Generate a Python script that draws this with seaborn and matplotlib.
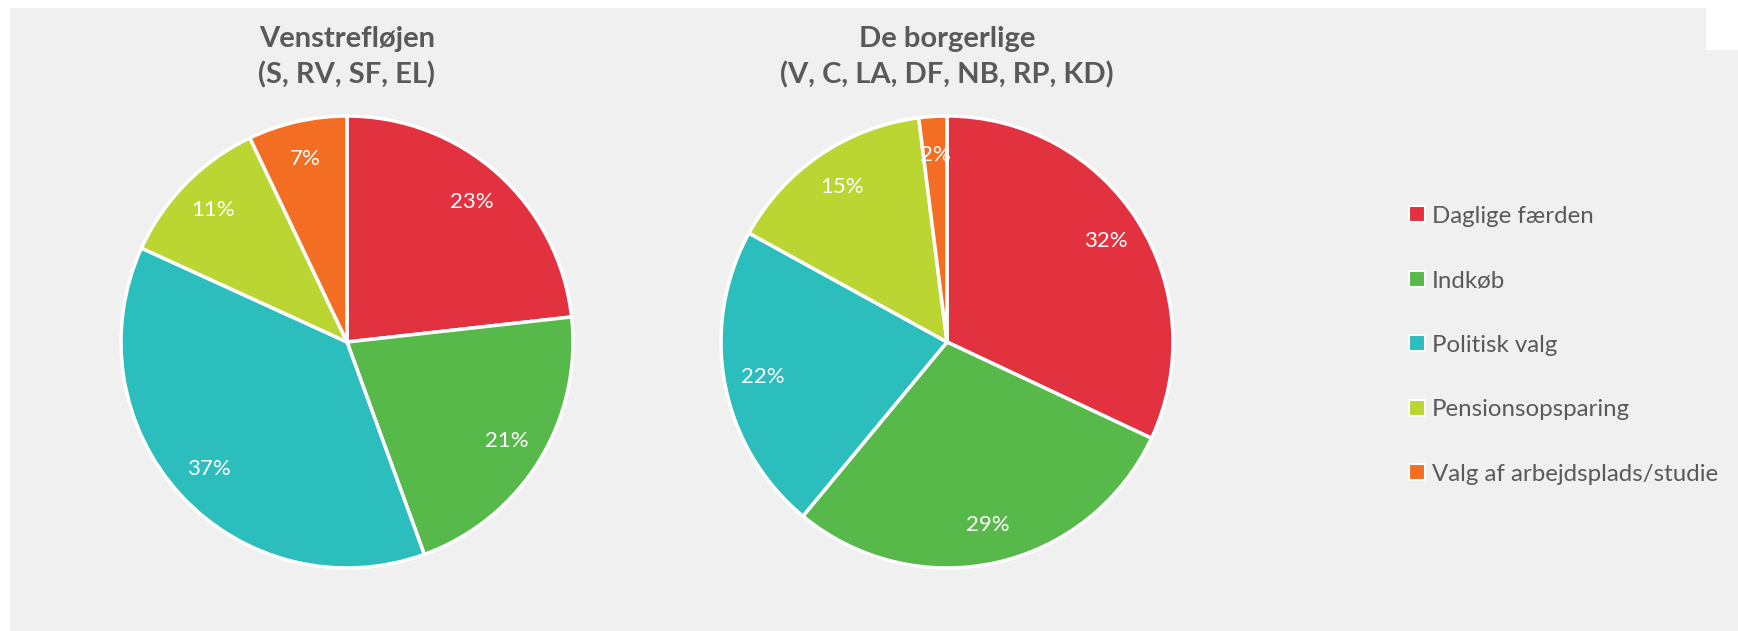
import matplotlib
matplotlib.use("Agg")
import matplotlib.pyplot as plt
import seaborn as sns
from matplotlib.lines import Line2D
from matplotlib.patches import Rectangle

# Data
categories = ["Daglige færden", "Indkøb", "Politisk valg",
              "Pensionsopsparing", "Valg af arbejdsplads/studie"]
venstre_vals = [23, 21, 37, 11, 7]
borgerlige_vals = [32, 29, 22, 15, 2]
titles = ["Venstrefløjen\n(S, RV, SF, EL)", "De borgerlige\n(V, C, LA, DF, NB, RP, KD)"]

palette = sns.color_palette(["#E3323F", "#57B94A", "#2CBDBD", "#BBD532", "#F36E23"])

sns.set_theme(style="white")
plt.rcParams["font.family"] = ["Lato", "DejaVu Sans"]

W, H = 1738, 631
fig = plt.figure(figsize=(W / 100, H / 100), dpi=100)
fig.patch.set_facecolor("white")

# grey chart area
bg = "#F0F0F0"
fig.add_artist(Rectangle((10 / W, 0), 1696 / W, (H - 8) / H, transform=fig.transFigure,
                         facecolor=bg, edgecolor="none", zorder=0))
fig.add_artist(Rectangle((1700 / W, 0), 38 / W, (H - 50) / H, transform=fig.transFigure,
                         facecolor=bg, edgecolor="none", zorder=0))

R = 226
centers = [(347, 342), (947, 342)]
for (cx, cy), vals, title in zip(centers, [venstre_vals, borgerlige_vals], titles):
    ax = fig.add_axes([(cx - R) / W, (H - cy - R) / H, 2 * R / W, 2 * R / H])
    ax.set_facecolor("none")
    wedges, texts, autotexts = ax.pie(
        vals, colors=palette, startangle=90, counterclock=False,
        autopct=lambda p: f"{p:.0f}%", pctdistance=0.83,
        wedgeprops={"edgecolor": "white", "linewidth": 2.5},
        textprops={"color": "white", "fontsize": 16},
    )
    ax.set_xlim(-1, 1)
    ax.set_ylim(-1, 1)
    ax.set_aspect("equal")
    ax.axis("off")
    fig.text(cx / W, 1 - 57 / H, title, ha="center", va="center", fontsize=21,
             fontweight="bold", color="#595959", linespacing=1.4)

handles = [Line2D([], [], marker="s", linestyle="none", markersize=12,
                  markerfacecolor=c, markeredgecolor="white", markeredgewidth=1.5)
           for c in palette]
fig.legend(handles, categories, loc="upper left", bbox_to_anchor=(1386 / W, 1 - 184 / H),
           frameon=False, fontsize=17.3, labelcolor="#595959", labelspacing=1.81,
           handletextpad=0.2, handlelength=0.8)

fig.savefig("out.png", dpi=100, facecolor=fig.get_facecolor())
